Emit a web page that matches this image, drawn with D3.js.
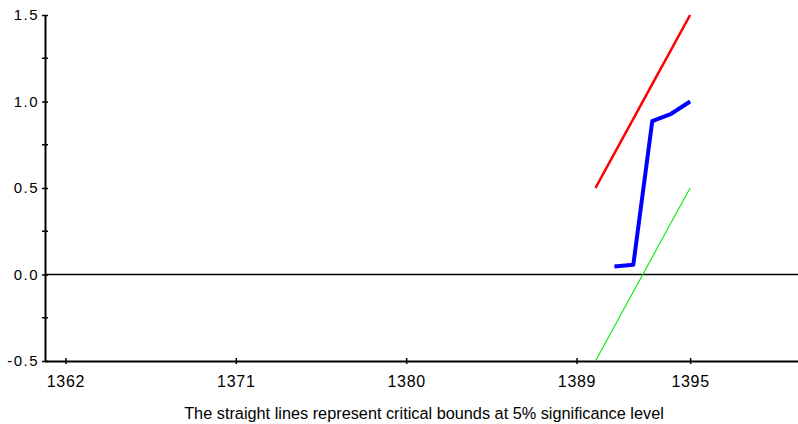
<!DOCTYPE html>
<meta charset="utf-8">
<style>
body { margin: 0; background: #fff; }
text { font-family: "Liberation Sans", Arial, sans-serif; fill: #000; }
.x-axis .tick text { font-size: 16px; letter-spacing: 0.7px; }
.y-axis .tick text { font-size: 15px; letter-spacing: 1.5px; }
.caption { font-size: 16.3px; }
</style>
<svg width="798" height="424"></svg>
<script src="https://d3js.org/d3.v7.min.js"></script>
<script>

var years = [1390, 1391, 1392, 1393, 1394, 1395];
var cusumsq = [null, 0.046, 0.056, 0.886, 0.929, 1.0];
var upperBound = [0.5, 0.7, 0.9, 1.1, 1.3, 1.5];
var lowerBound = [-0.5, -0.3, -0.1, 0.1, 0.3, 0.5];
var xTicks = [1362, 1371, 1380, 1389, 1395];
var yTicks = [-0.5, 0.0, 0.5, 1.0, 1.5];
var yMinor = [-0.25, 0.25, 0.75, 1.25];

var svg = d3.select("svg");

var x = d3.scaleLinear()
    .domain([1360.92, 1400.7])
    .range([45, 798]);

var y = d3.scaleLinear()
    .domain([-0.5, 1.5])
    .range([361, 15]);

function series(vals) {
  return years.map(function(d, i) { return [d, vals[i]]; })
    .filter(function(d) { return d[1] != null; });
}

var line = d3.line()
    .x(function(d) { return x(d[0]); })
    .y(function(d) { return y(d[1]); });

// zero line
svg.append("line")
    .attr("x1", x.range()[0]).attr("x2", x.range()[1])
    .attr("y1", y(0)).attr("y2", y(0))
    .attr("stroke", "#000")
    .attr("stroke-width", 1.6);

// x axis
var xa = svg.append("g")
    .attr("class", "x-axis")
    .attr("transform", "translate(0," + y(-0.5) + ")")
    .call(d3.axisBottom(x).tickValues(xTicks).tickFormat(d3.format("d")).tickSize(3).tickSizeOuter(0));
xa.select(".domain").attr("stroke-width", 2);
xa.selectAll(".tick line").attr("y1", -3).attr("stroke-width", 1.5);
xa.selectAll(".tick text").attr("y", 10).attr("dy", "1em");

// y axis
var ya = svg.append("g")
    .attr("class", "y-axis")
    .attr("transform", "translate(" + x.range()[0] + ",0)")
    .call(d3.axisLeft(y).tickValues(yTicks).tickFormat(d3.format(".1f")).tickSize(3).tickSizeOuter(0));
ya.select(".domain").attr("stroke-width", 2);
ya.selectAll(".tick line").attr("x1", 3).attr("x2", -3).attr("stroke-width", 1.5);
ya.selectAll(".tick text").attr("x", -6).text(function(d) { return d3.format(".1f")(d).replace("\u2212", "-"); });

ya.selectAll(".minor")
  .data(yMinor)
  .enter().append("line")
    .attr("class", "minor")
    .attr("x1", -3).attr("x2", 3)
    .attr("y1", function(d) { return y(d); })
    .attr("y2", function(d) { return y(d); })
    .attr("stroke", "#000")
    .attr("stroke-width", 1.5);

// bounds and statistic
svg.append("path")
    .datum(series(upperBound))
    .attr("fill", "none")
    .attr("stroke", "#ff0000")
    .attr("stroke-width", 2.5)
    .attr("d", line);

svg.append("path")
    .datum(series(lowerBound))
    .attr("fill", "none")
    .attr("stroke", "#00ee00")
    .attr("stroke-width", 1.1)
    .attr("d", line);

svg.append("path")
    .datum(series(cusumsq))
    .attr("fill", "none")
    .attr("stroke", "#0000ff")
    .attr("stroke-width", 4)
    .attr("stroke-linejoin", "round")
    .attr("d", line);

svg.append("text")
    .attr("class", "caption")
    .attr("x", 424)
    .attr("y", 419)
    .attr("text-anchor", "middle")
    .text("The straight lines represent critical bounds at 5% significance level");

</script>
